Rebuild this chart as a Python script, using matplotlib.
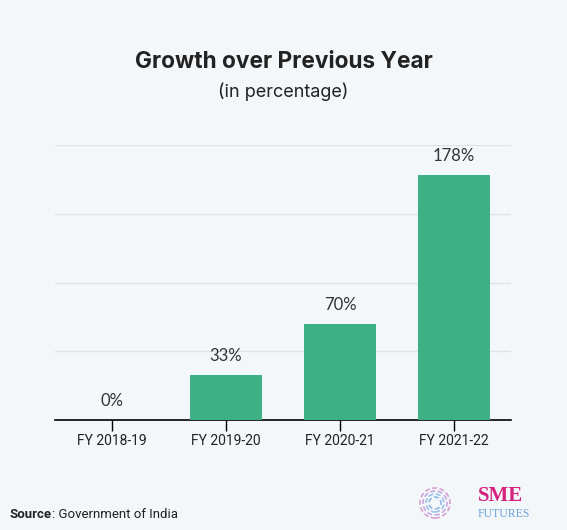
import matplotlib.pyplot as plt
from matplotlib.patches import Circle

categories = ["FY 2018-19", "FY 2019-20", "FY 2020-21", "FY 2021-22"]
growth = [0, 33, 70, 178]
value_labels = ["0%", "33%", "70%", "178%"]

bg = "#f3f7fa"
bar_color = "#3db085"

fig = plt.figure(figsize=(5.67, 5.3), dpi=100, facecolor=bg)
ax = fig.add_axes([55 / 567, 1 - 420 / 530, 456 / 567, 275 / 530], facecolor=bg)

ax.bar(range(len(categories)), growth, width=0.64, color=bar_color, zorder=3)
for i, (v, lab) in enumerate(zip(growth, value_labels)):
    ax.annotate(lab, (i, v), xytext=(0, 8), textcoords="offset points",
                ha="center", va="bottom", fontsize=12, color="#333333",
                family="Lato")

ax.set_xlim(-0.5, 3.5)
ax.set_ylim(0, 200)
ax.set_yticks([50, 100, 150, 200])
ax.yaxis.grid(True, color="#e0e3e6", linewidth=1)
ax.tick_params(axis="y", left=False, labelleft=False)
ax.set_xticks(range(len(categories)))
ax.set_xticklabels(categories, fontsize=10, family="Roboto", color="#222222")
ax.tick_params(axis="x", length=8, width=1, color="black", pad=2)
for s in ["top", "right", "left"]:
    ax.spines[s].set_visible(False)
ax.spines["bottom"].set_color("black")
ax.spines["bottom"].set_linewidth(1.2)

fig.text(0.5, 1 - 62 / 530, "Growth over Previous Year", ha="center", va="center",
         fontsize=16.3, fontweight="bold", family="Inter", color="#222222")
fig.text(0.5, 1 - 92 / 530, "(in percentage)", ha="center", va="center",
         fontsize=13, family="Inter", color="#222222")

fig.text(10 / 567, 1 - 514 / 530, "Source", ha="left", va="center",
         fontsize=9.5, fontweight="bold", family="Roboto", color="#222222")
fig.text(52 / 567, 1 - 514 / 530, ": Government of India", ha="left", va="center",
         fontsize=9.5, family="Roboto", color="#222222")

# logo
lax = fig.add_axes([415 / 567, 1 - 526 / 530, 110 / 567, 46 / 530])
lax.set_xlim(0, 110)
lax.set_ylim(0, 46)
lax.axis("off")
for r, c in [(15, "#d9a0d0"), (12, "#c8a8e0"), (9, "#9ec3ea"), (6, "#8fb8e8")]:
    lax.add_patch(Circle((20, 23), r, fill=False, ec=c, lw=1.2, ls=(0, (3, 1.5))))
lax.text(63, 30, "SME", fontsize=15, fontweight="bold", family="Liberation Serif",
         color="#d6227f", ha="left", va="center")
lax.text(63, 12, "FUTURES", fontsize=8.5, family="Liberation Serif",
         color="#6fa0d8", ha="left", va="center")

fig.savefig("out.png", dpi=100, facecolor=bg)
